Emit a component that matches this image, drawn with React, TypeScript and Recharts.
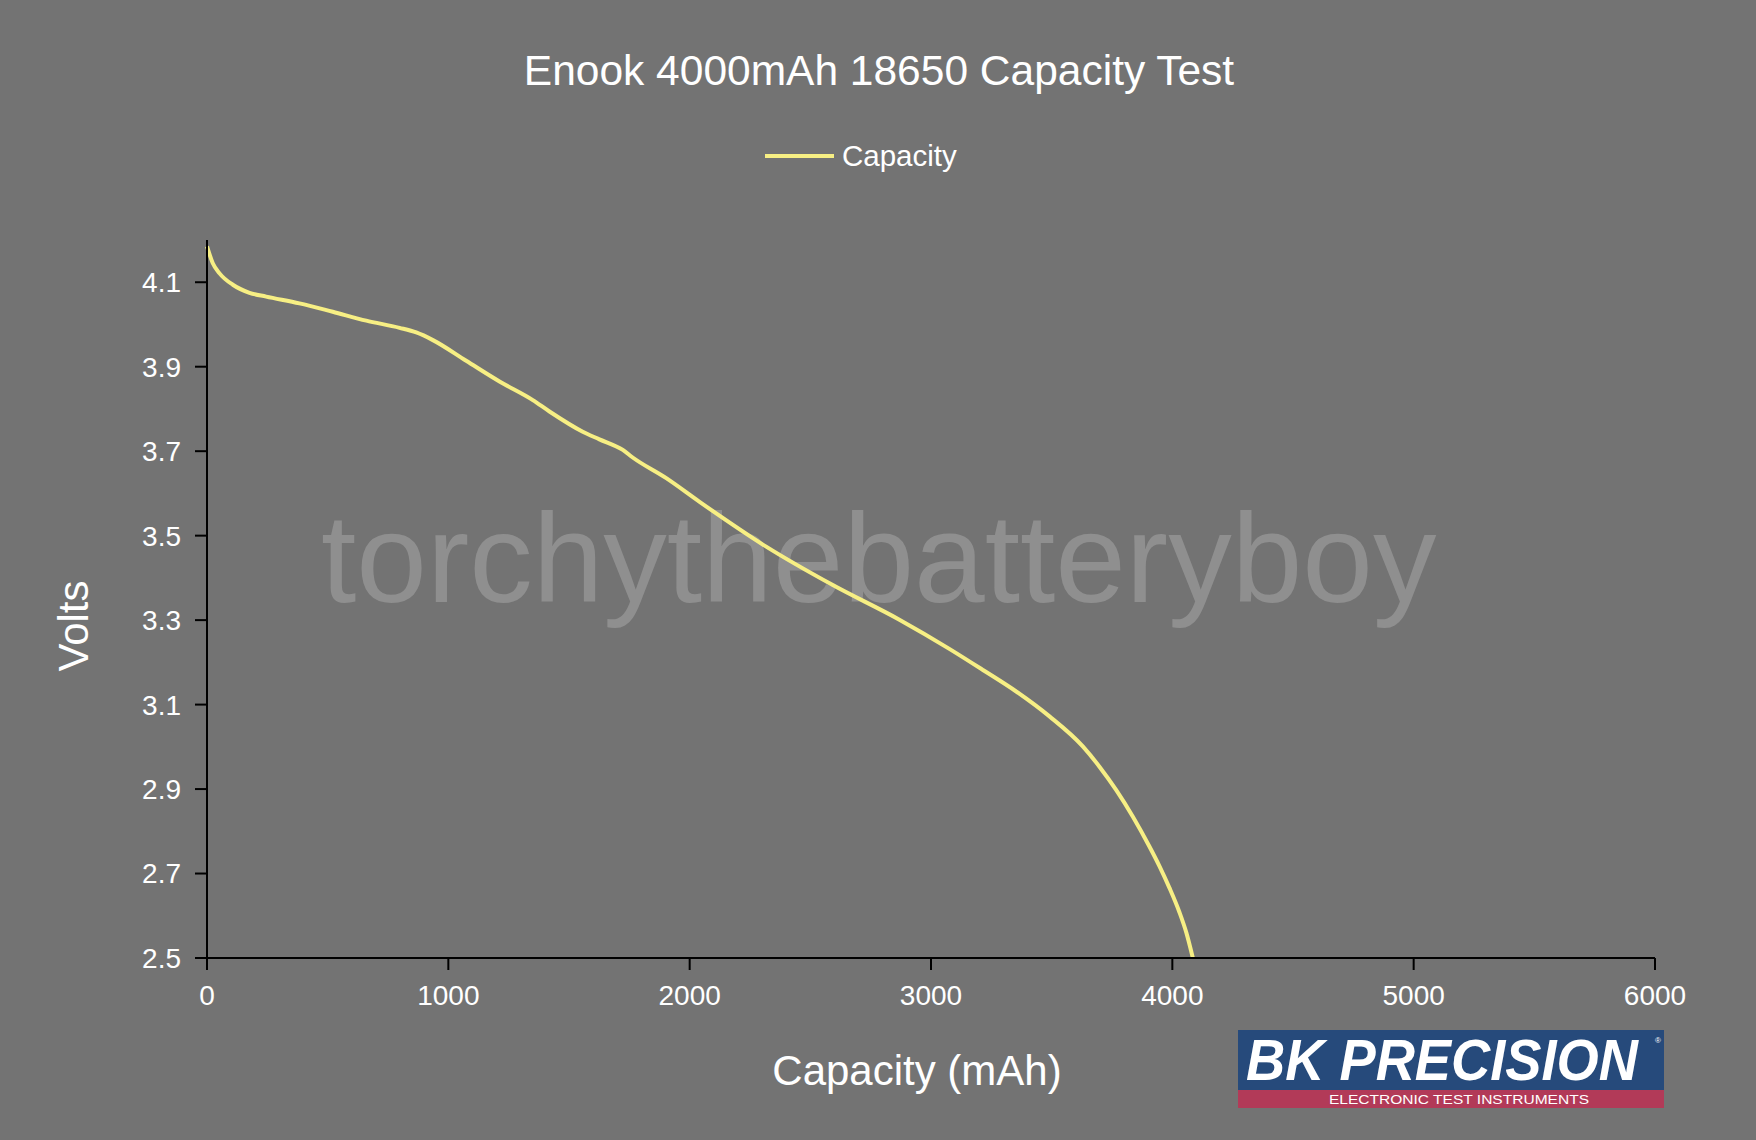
import React from "react";
import { LineChart, Line, XAxis, YAxis, Legend } from "recharts";

const capacityMah = [
  0, 24, 52, 107, 176, 245, 383, 521, 660, 798, 867, 936, 1074, 1212, 1350, 1419,
  1557, 1626, 1723, 1764, 1903, 2041, 2317, 2593, 2869, 3076, 3215, 3353, 3491,
  3629, 3698, 3767, 3836, 3905, 3947, 3988, 4029, 4058, 4085,
];
const volts = [
  4.185, 4.145, 4.121, 4.094, 4.075, 4.066, 4.05, 4.03, 4.009, 3.992, 3.981, 3.963,
  3.914, 3.865, 3.821, 3.794, 3.746, 3.728, 3.703, 3.685, 3.636, 3.58, 3.474, 3.383,
  3.301, 3.232, 3.182, 3.131, 3.072, 3.001, 2.953, 2.898, 2.835, 2.764, 2.717, 2.666,
  2.609, 2.56, 2.5,
];
const xTicks = [0, 1000, 2000, 3000, 4000, 5000, 6000];
const yTicks = [2.5, 2.7, 2.9, 3.1, 3.3, 3.5, 3.7, 3.9, 4.1];
const seriesName = "Capacity";
const titleText = "Enook 4000mAh 18650 Capacity Test";
const xLabelText = "Capacity (mAh)";
const yLabelText = "Volts";
const watermarkText = "torchythebatteryboy";

const data = capacityMah.map((m, i) => ({ mAh: m, v: volts[i] }));

const FONT = "'Liberation Sans', Arial, Helvetica, sans-serif";
const BG = "#737373";
const LINE = "#F7EF84";

const XLabel = () => (
  <text x={917} y={1085} textAnchor="middle" fill="#fff" fontSize={42} fontFamily={FONT}>
    {xLabelText}
  </text>
);
const YLabel = () => (
  <text
    x={88}
    y={626}
    transform="rotate(-90, 88, 626)"
    textAnchor="middle"
    fill="#fff"
    fontSize={42}
    fontFamily={FONT}
  >
    {yLabelText}
  </text>
);

const LegendContent = (props: any) => {
  const items = props.payload || [];
  return (
    <svg width={1756} height={60} style={{ display: "block" }}>
      {items.map((it: any, i: number) => (
        <g key={i}>
          <line x1={765} x2={834} y1={28} y2={28} stroke={it.color} strokeWidth={4} />
          <text x={842} y={38} fill="#fff" fontSize={29.5} fontFamily={FONT}>
            {it.value}
          </text>
        </g>
      ))}
    </svg>
  );
};

export default function App() {
  return (
    <div
      style={{
        position: "absolute",
        left: 0,
        top: 0,
        width: 1756,
        height: 1140,
        background: BG,
        fontFamily: FONT,
        overflow: "hidden",
      }}
    >
      <svg width={1756} height={1140} style={{ position: "absolute", left: 0, top: 0 }}>
        <text x={321} y={602} fill="#8f8f8f" fontSize={127} fontFamily={FONT}>
          {watermarkText}
        </text>
      </svg>
      <LineChart
        width={1756}
        height={1140}
        data={data}
        margin={{ top: 240, right: 101, bottom: 122, left: 107 }}
      >
        <XAxis
          dataKey="mAh"
          type="number"
          domain={[0, 6000]}
          ticks={xTicks}
          height={60}
          tickSize={12}
          tickMargin={15}
          tick={{ fill: "#fff", fontSize: 28, fontFamily: FONT }}
          axisLine={{ stroke: "#000", strokeWidth: 2 }}
          tickLine={{ stroke: "#000", strokeWidth: 2 }}
          label={<XLabel />}
        />
        <YAxis
          type="number"
          domain={[2.5, 4.2]}
          ticks={yTicks}
          width={100}
          tickSize={12}
          tickMargin={14}
          tickFormatter={(v: number) => v.toFixed(1)}
          tick={{ fill: "#fff", fontSize: 28, fontFamily: FONT }}
          axisLine={{ stroke: "#000", strokeWidth: 2 }}
          tickLine={{ stroke: "#000", strokeWidth: 2 }}
          label={<YLabel />}
        />
        <Legend
          verticalAlign="middle"
          layout="horizontal"
          align="center"
          wrapperStyle={{ top: 128, left: 0, width: 1756, height: 60 }}
          content={<LegendContent />}
        />
        <Line
          name={seriesName}
          dataKey="v"
          type="monotone"
          stroke={LINE}
          strokeWidth={4}
          dot={false}
          activeDot={false}
          isAnimationActive={false}
        />
      </LineChart>
      <svg
        width={1756}
        height={1140}
        style={{ position: "absolute", left: 0, top: 0, pointerEvents: "none" }}
      >
        <text x={879} y={85} textAnchor="middle" fill="#fff" fontSize={42.5} fontFamily={FONT}>
          {titleText}
        </text>
        <rect x={1238} y={1030} width={426} height={60} fill="#264a7b" />
        <rect x={1238} y={1090} width={426} height={18} fill="#b23a58" />
        <text
          x={1246}
          y={1080}
          fill="#fff"
          fontSize={58}
          fontWeight={900}
          fontStyle="italic"
          fontFamily={FONT}
          textLength={392}
          lengthAdjust="spacingAndGlyphs"
        >
          BK PRECISION
        </text>
        <text x={1658} y={1043} fill="#fff" fontSize={8} textAnchor="middle" fontFamily={FONT}>
          ®
        </text>
        <text
          x={1329}
          y={1104}
          fill="#fff"
          fontSize={13.5}
          fontFamily={FONT}
          textLength={260}
          lengthAdjust="spacingAndGlyphs"
        >
          ELECTRONIC TEST INSTRUMENTS
        </text>
      </svg>
    </div>
  );
}
